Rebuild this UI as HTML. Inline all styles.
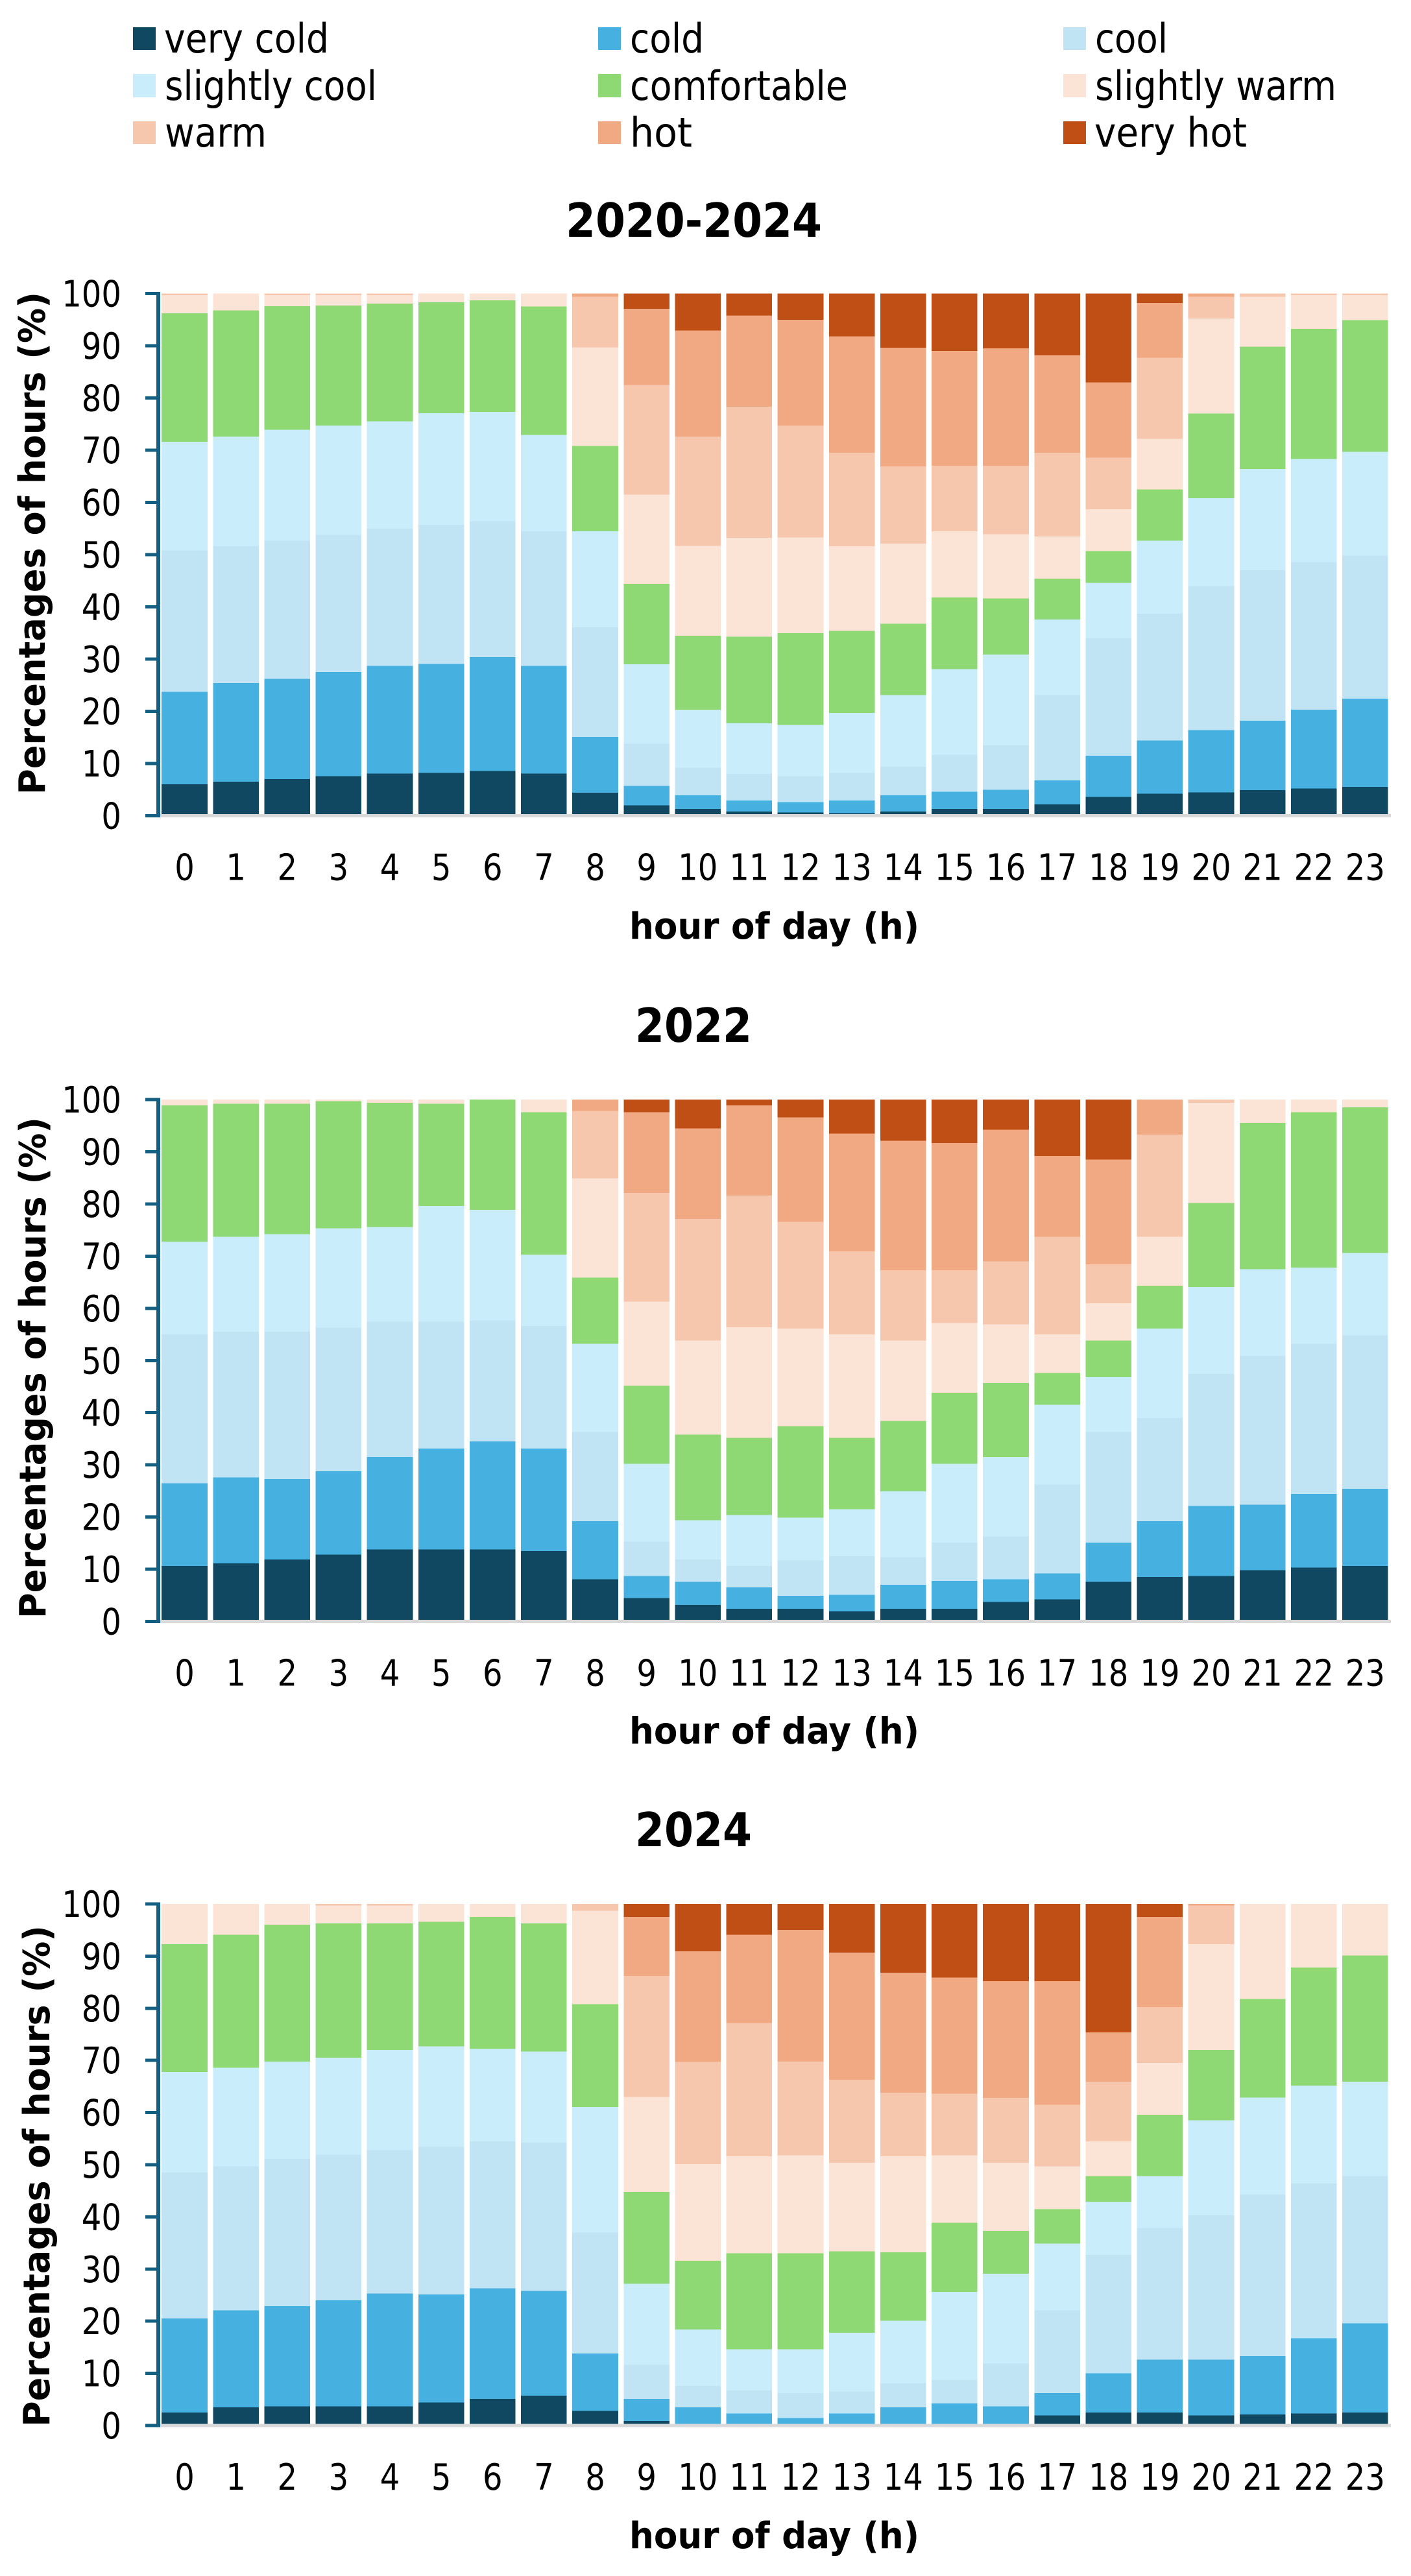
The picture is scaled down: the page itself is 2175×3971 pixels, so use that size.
<!DOCTYPE html>
<html lang="en">
<head>
<meta charset="utf-8">
<title>Thermal comfort class by hour of day</title>
<style>
html,body{margin:0;padding:0;background:#fff;width:2175px;height:3971px;overflow:hidden}
svg{display:block}
text{font-family:"DejaVu Sans","Liberation Sans",sans-serif;fill:#000}
.leg{font-size:62px}
.tick{font-size:56px}
.axt{font-size:56px;font-weight:bold}
.ttl{font-size:72px;font-weight:bold}
</style>
</head>
<body>
<svg id="figure" xmlns="http://www.w3.org/2000/svg" width="2175" height="3971" viewBox="0 0 2175 3971">
  <rect x="0" y="0" width="2175" height="3971" fill="#ffffff"/>
  <g id="legend" shape-rendering="crispEdges">
    <g><rect x="205" y="42" width="35" height="35" fill="#104861"/><text class="leg" x="253" y="81" textLength="254" lengthAdjust="spacingAndGlyphs">very cold</text></g>
    <g><rect x="922" y="42" width="35" height="35" fill="#46B1E1"/><text class="leg" x="971" y="81" textLength="114" lengthAdjust="spacingAndGlyphs">cold</text></g>
    <g><rect x="1639" y="42" width="35" height="35" fill="#C1E4F5"/><text class="leg" x="1688" y="81" textLength="112" lengthAdjust="spacingAndGlyphs">cool</text></g>
    <g><rect x="205" y="114" width="35" height="36" fill="#CAEDFB"/><text class="leg" x="254" y="154" textLength="327" lengthAdjust="spacingAndGlyphs">slightly cool</text></g>
    <g><rect x="922" y="114" width="35" height="36" fill="#8ED973"/><text class="leg" x="971" y="154" textLength="336" lengthAdjust="spacingAndGlyphs">comfortable</text></g>
    <g><rect x="1639" y="114" width="35" height="36" fill="#FBE3D6"/><text class="leg" x="1688" y="154" textLength="372" lengthAdjust="spacingAndGlyphs">slightly warm</text></g>
    <g><rect x="205" y="187" width="35" height="35" fill="#F6C6AD"/><text class="leg" x="254" y="226" textLength="157" lengthAdjust="spacingAndGlyphs">warm</text></g>
    <g><rect x="922" y="187" width="35" height="35" fill="#F1A983"/><text class="leg" x="971" y="226" textLength="96" lengthAdjust="spacingAndGlyphs">hot</text></g>
    <g><rect x="1639" y="187" width="35" height="35" fill="#C04F15"/><text class="leg" x="1687" y="226" textLength="235" lengthAdjust="spacingAndGlyphs">very hot</text></g>
  </g>

  <g id="panel-all">
    <text class="ttl" x="872" y="365" textLength="395" lengthAdjust="spacingAndGlyphs">2020-2024</text>
    <text class="axt" transform="translate(69 1225) rotate(-90)" x="0" y="0" textLength="775" lengthAdjust="spacingAndGlyphs">Percentages of hours (%)</text>
    <text class="axt" x="970" y="1447" textLength="447" lengthAdjust="spacingAndGlyphs">hour of day (h)</text>
  </g>
  <g id="panel-2022">
    <text class="ttl" x="979" y="1606" textLength="180" lengthAdjust="spacingAndGlyphs">2022</text>
    <text class="axt" transform="translate(70 2495) rotate(-90)" x="0" y="0" textLength="773" lengthAdjust="spacingAndGlyphs">Percentages of hours (%)</text>
    <text class="axt" x="970" y="2687.5" textLength="447" lengthAdjust="spacingAndGlyphs">hour of day (h)</text>
  </g>
  <g id="panel-2024">
    <text class="ttl" x="979" y="2846" textLength="180" lengthAdjust="spacingAndGlyphs">2024</text>
    <text class="axt" transform="translate(76 3741) rotate(-90)" x="0" y="0" textLength="773" lengthAdjust="spacingAndGlyphs">Percentages of hours (%)</text>
    <text class="axt" x="970" y="3928" textLength="447" lengthAdjust="spacingAndGlyphs">hour of day (h)</text>
  </g>
</svg>

<script>
// Shared categories and tick labels
const hours = ["0","1","2","3","4","5","6","7","8","9","10","11","12","13","14","15","16","17","18","19","20","21","22","23"];
const yTickLabels = [0,10,20,30,40,50,60,70,80,90,100];
const classNames = ["very-cold","cold","cool","slightly-cool","comfortable","slightly-warm","warm","hot","very-hot"];
const classColors = ["#104861","#46B1E1","#C1E4F5","#CAEDFB","#8ED973","#FBE3D6","#F6C6AD","#F1A983","#C04F15"];

// Values are the cumulative percentage at the upper edge of each stacked class.
// The "very hot" class fills from the top of "hot" up to 100.

// 2020-2024
const all_veryColdTop = [6.0,6.5,7.0,7.6,8.1,8.2,8.6,8.1,4.4,2.0,1.3,0.8,0.6,0.5,0.8,1.3,1.3,2.2,3.6,4.2,4.5,4.9,5.2,5.5];
const all_coldTop = [23.7,25.4,26.2,27.5,28.7,29.1,30.4,28.7,15.1,5.7,3.9,2.9,2.6,2.9,3.9,4.6,5.0,6.8,11.5,14.4,16.4,18.2,20.3,22.4];
const all_coolTop = [50.8,51.6,52.7,53.8,55.0,55.7,56.4,54.5,36.1,13.8,9.2,8.0,7.6,8.2,9.4,11.7,13.5,23.1,34.0,38.7,44.0,47.0,48.6,49.8];
const all_slightlyCoolTop = [71.6,72.6,73.9,74.7,75.5,77.1,77.3,72.9,54.5,29.0,20.3,17.7,17.4,19.7,23.1,28.1,30.9,37.6,44.6,52.7,60.8,66.4,68.3,69.7];
const all_comfortableTop = [96.2,96.8,97.6,97.7,98.1,98.3,98.7,97.5,70.8,44.4,34.5,34.3,35.0,35.4,36.8,41.8,41.6,45.4,50.7,62.5,77.0,89.8,93.2,94.9];
const all_slightlyWarmTop = [99.7,100,99.7,99.7,99.7,100,100,100,89.7,61.5,51.7,53.2,53.3,51.6,52.1,54.5,53.9,53.5,58.7,72.2,95.2,99.4,99.7,99.7];
const all_warmTop = [100,100,100,100,100,100,100,100,99.4,82.5,72.6,78.3,74.7,69.5,66.9,67.0,67.0,69.5,68.6,87.7,99.4,100,100,100];
const all_hotTop = [100,100,100,100,100,100,100,100,100,97.1,92.9,95.8,95.0,91.8,89.6,89.0,89.5,88.2,83.0,98.2,100,100,100,100];

// 2022
const y22_veryColdTop = [10.6,11.1,11.9,12.8,13.8,13.8,13.8,13.5,8.1,4.5,3.2,2.4,2.4,1.9,2.4,2.4,3.7,4.2,7.6,8.5,8.7,9.8,10.3,10.6];
const y22_coldTop = [26.5,27.6,27.3,28.8,31.5,33.1,34.5,33.1,19.2,8.7,7.6,6.5,4.9,5.1,7.0,7.8,8.1,9.2,15.1,19.2,22.1,22.4,24.4,25.4];
const y22_coolTop = [55.0,55.5,55.5,56.3,57.4,57.4,57.7,56.6,36.3,15.3,11.9,10.6,11.7,12.5,12.3,15.1,16.3,26.2,36.3,39.0,47.4,50.9,53.2,54.8];
const y22_slightlyCoolTop = [72.8,73.7,74.2,75.3,75.6,79.6,78.9,70.3,53.2,30.2,19.4,20.4,19.9,21.5,24.9,30.2,31.5,41.5,46.8,56.1,64.1,67.5,67.8,70.6];
const y22_comfortableTop = [98.9,99.2,99.2,99.7,99.4,99.2,100,97.6,65.9,45.2,35.8,35.2,37.4,35.2,38.4,43.8,45.7,47.6,53.8,64.3,80.2,95.5,97.6,98.5];
const y22_slightlyWarmTop = [100,100,100,100,100,100,100,100,84.9,61.3,53.8,56.4,56.1,55.0,53.8,57.2,56.9,55.0,61.0,73.7,99.4,100,100,100];
const y22_warmTop = [100,100,100,100,100,100,100,100,97.8,82.1,77.1,81.6,76.6,70.9,67.3,67.3,69.0,73.7,68.4,93.3,100,100,100,100];
const y22_hotTop = [100,100,100,100,100,100,100,100,100,97.6,94.5,98.9,96.6,93.5,92.1,91.7,94.2,89.2,88.5,100,100,100,100,100];

// 2024
const y24_veryColdTop = [2.5,3.5,3.7,3.7,3.7,4.4,5.1,5.7,2.8,0.9,0.2,0,0,0,0,0.1,0.1,1.9,2.5,2.5,1.9,2.1,2.3,2.5];
const y24_coldTop = [20.5,22.1,22.9,24.0,25.3,25.1,26.3,25.8,13.8,5.1,3.5,2.3,1.4,2.3,3.5,4.2,3.7,6.2,10.0,12.6,12.6,13.3,16.7,19.6];
const y24_coolTop = [48.5,49.7,51.1,51.9,52.8,53.4,54.5,54.2,37.0,11.6,7.6,6.7,6.2,6.5,8.1,8.8,11.9,22.1,32.7,37.9,40.3,44.3,46.4,47.8];
const y24_slightlyCoolTop = [67.8,68.6,69.8,70.5,72.0,72.7,72.2,71.7,61.1,27.2,18.4,14.6,14.6,17.8,20.1,25.6,29.1,34.9,42.9,47.8,58.5,62.9,65.2,65.9];
const y24_comfortableTop = [92.3,94.1,96.0,96.3,96.3,96.6,97.5,96.3,80.8,44.8,31.6,33.0,33.0,33.4,33.2,38.9,37.3,41.5,47.8,59.6,72.0,81.8,87.8,90.1];
const y24_slightlyWarmTop = [100,100,100,99.7,99.7,100,100,100,98.7,63.0,50.1,51.6,51.8,50.4,51.6,51.8,50.4,49.7,54.5,69.5,92.3,100,100,100];
const y24_warmTop = [100,100,100,100,100,100,100,100,100,86.2,69.7,77.2,69.8,66.3,63.8,63.6,62.8,61.5,65.9,80.2,99.7,100,100,100];
const y24_hotTop = [100,100,100,100,100,100,100,100,100,97.5,90.9,94.1,95.0,90.7,86.8,85.9,85.2,85.2,75.4,97.5,100,100,100,100];

const SVG_NS = "http://www.w3.org/2000/svg";

function makeRect(parent, x, y, w, h, fill) {
  const r = document.createElementNS(SVG_NS, "rect");
  r.setAttribute("x", x);
  r.setAttribute("y", y);
  r.setAttribute("width", w);
  r.setAttribute("height", h);
  r.setAttribute("fill", fill);
  parent.appendChild(r);
  return r;
}

function makeTick(parent, x, y, str, anchor) {
  const t = document.createElementNS(SVG_NS, "text");
  t.setAttribute("class", "tick");
  t.setAttribute("x", x);
  t.setAttribute("y", y);
  t.setAttribute("text-anchor", anchor);
  t.setAttribute("textLength", (30.6 * str.length).toFixed(1));
  t.setAttribute("lengthAdjust", "spacingAndGlyphs");
  t.textContent = str;
  parent.appendChild(t);
  return t;
}

function drawPanel(panelId, label, tops, yTop, yBottom) {
  const panel = document.getElementById(panelId);
  const plotLeft = 245;
  const plotRight = 2144;
  const band = (plotRight - plotLeft) / hours.length;
  const barWidth = 70.6;
  const xScale = function (i) { return plotLeft + band * i + 4.2; };
  const yScale = function (v) { return yBottom - (v / 100) * (yBottom - yTop); };

  const bars = document.createElementNS(SVG_NS, "g");
  bars.setAttribute("shape-rendering", "crispEdges");
  
  
  panel.appendChild(bars);

  hours.forEach(function (hour, i) {
    let lower = 0;
    classNames.forEach(function (cls, c) {
      const upper = c < tops.length ? tops[c][i] : 100;
      const y1 = yScale(upper);
      const y0 = yScale(lower);
      if (y0 - y1 > 0.05) {
        const seg = makeRect(bars, xScale(i).toFixed(2), y1.toFixed(2), barWidth, (y0 - y1).toFixed(2), classColors[c]);
        
        
      }
      lower = upper;
    });
  });

  const axes = document.createElementNS(SVG_NS, "g");
  axes.setAttribute("shape-rendering", "crispEdges");
  
  
  panel.appendChild(axes);

  const baseline = makeRect(axes, 244, yBottom - 2.5, 1900, 5, "#D9D9D9");
  
  

  const yLine = makeRect(axes, 241, yTop - 2.5, 6, yBottom - yTop + 5, "#156082");
  
  

  yTickLabels.forEach(function (v) {
    const tickMark = makeRect(axes, 224, yScale(v) - 2.5, 20, 5, "#156082");
    
    
    const tickText = makeTick(panel, 187, yScale(v) + 20, String(v), "end");
    
    
  });

  hours.forEach(function (hour, i) {
    const tickText = makeTick(panel, xScale(i) + barWidth / 2, yBottom + 99, hour, "middle");
    
    
  });
}

drawPanel("panel-all", "2020-2024",
  [all_veryColdTop, all_coldTop, all_coolTop, all_slightlyCoolTop, all_comfortableTop, all_slightlyWarmTop, all_warmTop, all_hotTop],
  452.5, 1257.5);
drawPanel("panel-2022", "2022",
  [y22_veryColdTop, y22_coldTop, y22_coolTop, y22_slightlyCoolTop, y22_comfortableTop, y22_slightlyWarmTop, y22_warmTop, y22_hotTop],
  1695, 2499.5);
drawPanel("panel-2024", "2024",
  [y24_veryColdTop, y24_coldTop, y24_coolTop, y24_slightlyCoolTop, y24_comfortableTop, y24_slightlyWarmTop, y24_warmTop, y24_hotTop],
  2935, 3739);
</script>
</body>
</html>
